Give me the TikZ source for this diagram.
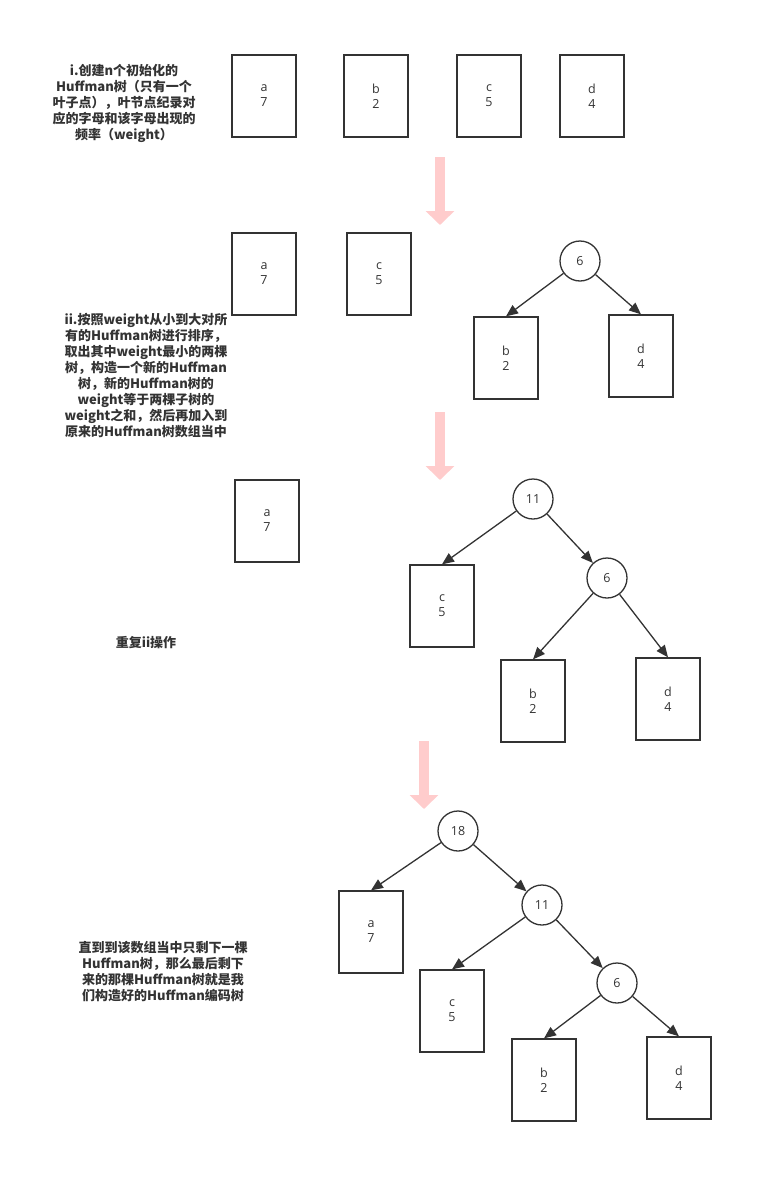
\documentclass[tikz,border=0pt]{standalone}
\usepackage{fontspec}
\usepackage{tikz}
\usetikzlibrary{arrows.meta}
\setmainfont{Open Sans}
\newfontfamily\cjkfont{Noto Sans CJK SC}
\definecolor{linegray}{RGB}{51, 51, 51}
\definecolor{pinkarrow}{RGB}{255, 204, 204}

\begin{document}
\begin{tikzpicture}[
  x=1pt, y=-1pt,
  box/.style={rectangle, draw=linegray, line width=1.3pt, minimum width=64,
              minimum height=82, align=center, text=linegray,
              font=\fontsize{12.5}{15}\selectfont},
  sum/.style={circle, draw=linegray, line width=1.3pt, minimum size=40,
              inner sep=0pt, text=linegray, font=\fontsize{12.5}{15}\selectfont},
  edge/.style={-{Triangle[length=12pt, width=10pt]}, line width=1.3pt, color=linegray},
  bigarrow/.style={line width=10pt, color=pinkarrow, -{Triangle[length=14pt, width=28pt]}},
  label/.style={font=\cjkfont\bfseries\fontsize{13}{16}\selectfont,
                align=center, text=linegray}
]
  \useasboundingbox (0,0) rectangle (772,1183);

  % step i
  \node[label] (txtinit) at (124,103) {i.创建n个初始化的\\Huffman树（只有一个\\叶子点），叶节点纪录对\\应的字母和该字母出现的\\频率（weight）};
  \node[box] (a1) at (264,96)  {a\\7};
  \node[box] (b1) at (376,96)  {b\\2};
  \node[box] (c1) at (489,96)  {c\\5};
  \node[box] (d1) at (592,96)  {d\\4};

  \coordinate (s1) at (440,157);
  \coordinate (e1) at (440,225);
  \draw[bigarrow] (s1) -- (e1);

  % step ii
  \node[label] (txtmerge) at (146,376) {ii.按照weight从小到大对所\\有的Huffman树进行排序，\\取出其中weight最小的两棵\\树，构造一个新的Huffman\\树，新的Huffman树的\\weight等于两棵子树的\\weight之和，然后再加入到\\原来的Huffman树数组当中};
  \node[box] (a2) at (264,274) {a\\7};
  \node[box] (c2) at (379,274) {c\\5};
  \node[sum] (n6a) at (580,261) {6};
  \node[box] (b2) at (506,358) {b\\2};
  \node[box] (d2) at (641,356) {d\\4};
  \draw[edge] (n6a) -- (b2.north);
  \draw[edge] (n6a) -- (d2.north);

  \coordinate (s2) at (440,412);
  \coordinate (e2) at (440,480);
  \draw[bigarrow] (s2) -- (e2);

  % repeat
  \node[label] (txtrepeat) at (146,643) {重复ii操作};
  \node[box] (a3) at (267,521) {a\\7};
  \node[sum] (n11a) at (533,499) {11};
  \node[box] (c3) at (442,606) {c\\5};
  \node[sum] (n6b) at (607,578) {6};
  \node[box] (b3) at (533,701) {b\\2};
  \node[box] (d3) at (668,699) {d\\4};
  \draw[edge] (n11a) -- (c3.north);
  \draw[edge] (n11a) -- (n6b);
  \draw[edge] (n6b) -- (b3.north);
  \draw[edge] (n6b) -- (d3.north);

  \coordinate (s3) at (424,741);
  \coordinate (e3) at (424,809);
  \draw[bigarrow] (s3) -- (e3);

  % final tree
  \node[label] (txtfinal) at (163,972) {直到到该数组当中只剩下一棵\\Huffman树，那么最后剩下\\来的那棵Huffman树就是我\\们构造好的Huffman编码树};
  \node[sum] (n18) at (458,831) {18};
  \node[box] (a4) at (371,932) {a\\7};
  \node[sum] (n11b) at (542,905) {11};
  \node[box] (c4) at (452,1011) {c\\5};
  \node[sum] (n6c) at (617,983) {6};
  \node[box] (b4) at (544,1080) {b\\2};
  \node[box] (d4) at (679,1078) {d\\4};
  \draw[edge] (n18) -- (a4.north);
  \draw[edge] (n18) -- (n11b);
  \draw[edge] (n11b) -- (c4.north);
  \draw[edge] (n11b) -- (n6c);
  \draw[edge] (n6c) -- (b4.north);
  \draw[edge] (n6c) -- (d4.north);
\end{tikzpicture}
\end{document}
